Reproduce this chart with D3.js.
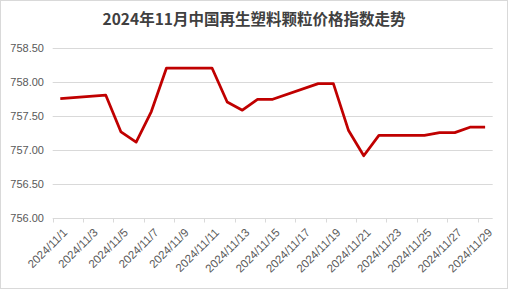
<!DOCTYPE html>
<html>
<head>
<meta charset="utf-8">
<script src="https://cdn.jsdelivr.net/npm/d3@7"></script>
<style>
  body { margin: 0; background: #fff; }
  svg { display: block; }
</style>
</head>
<body>
<div id="chart"></div>
<script>
// 2024年11月 再生塑料颗粒价格指数 (工作日数据)
var title = "2024年11月中国再生塑料颗粒价格指数走势";
var days = d3.range(1, 30).map(function(d){ return "2024/11/" + d; }); // 日期轴 11/1 - 11/29
var dates = ["2024/11/1", "2024/11/4", "2024/11/5", "2024/11/6", "2024/11/7", "2024/11/8",
             "2024/11/11", "2024/11/12", "2024/11/13", "2024/11/14", "2024/11/15",
             "2024/11/18", "2024/11/19", "2024/11/20", "2024/11/21", "2024/11/22",
             "2024/11/25", "2024/11/26", "2024/11/27", "2024/11/28", "2024/11/29"];
var values = [757.76, 757.81, 757.27, 757.12, 757.57, 758.21,
              758.21, 757.71, 757.59, 757.75, 757.75,
              757.98, 757.98, 757.29, 756.92, 757.22,
              757.22, 757.26, 757.26, 757.34, 757.34];
var yTicks = [756.0, 756.5, 757.0, 757.5, 758.0, 758.5];

var W = 508, H = 289;
var plotL = 52.7, plotR = 492.7, plotT = 48.3, plotB = 218.3;

var svg = d3.select("#chart").append("svg")
    .attr("width", W)
    .attr("height", H);

svg.append("rect")
    .attr("x", 0.5).attr("y", 0.5)
    .attr("width", W - 1).attr("height", H - 1)
    .attr("fill", "#fff")
    .attr("stroke", "#d9d9d9");

svg.append("text")
    .attr("x", W / 2)
    .attr("y", 25)
    .attr("text-anchor", "middle")
    .attr("font-family", "'Noto Sans CJK SC', sans-serif")
    .attr("font-size", "15.5px")
    .attr("font-weight", "bold")
    .attr("fill", "#404040")
    .text(title);

var x = d3.scaleBand().domain(days).range([plotL, plotR]);
var y = d3.scaleLinear().domain([756, 758.5]).range([plotB, plotT]);

// grille horizontale + labels Y
svg.append("g").selectAll("line")
    .data(yTicks.slice(1))
    .enter().append("line")
    .attr("x1", plotL).attr("x2", plotR)
    .attr("y1", function(d){ return Math.round(y(d)) + 0.5; })
    .attr("y2", function(d){ return Math.round(y(d)) + 0.5; })
    .attr("stroke", "#d9d9d9");

svg.append("g").selectAll("text")
    .data(yTicks)
    .enter().append("text")
    .attr("x", 44)
    .attr("y", function(d){ return y(d); })
    .attr("dy", "0.35em")
    .attr("text-anchor", "end")
    .attr("font-family", "'Liberation Sans', sans-serif")
    .attr("font-size", "11px")
    .attr("fill", "#595959")
    .text(function(d){ return d.toFixed(2); });

// axe X
var xAxis = svg.append("g")
    .attr("transform", "translate(0," + (Math.round(plotB) + 0.5) + ")");
xAxis.append("line")
    .attr("x1", plotL).attr("x2", plotR)
    .attr("stroke", "#d9d9d9");
xAxis.selectAll(".tick")
    .data(days.filter(function(d, i){ return i % 2 === 0; }))
    .enter().append("line")
    .attr("class", "tick")
    .attr("x1", function(d){ return Math.round(x(d)) + 0.5; })
    .attr("x2", function(d){ return Math.round(x(d)) + 0.5; })
    .attr("y1", 0).attr("y2", 4)
    .attr("stroke", "#d9d9d9");

svg.append("g").selectAll("text")
    .data(days.filter(function(d, i){ return i % 2 === 0; }))
    .enter().append("text")
    .attr("transform", function(d){
        return "translate(" + (x(d) + x.bandwidth() / 2 + 5) + "," + (plotB + 12) + ") rotate(-45)";
    })
    .attr("text-anchor", "end")
    .attr("dy", "0.35em")
    .attr("font-family", "'Liberation Sans', sans-serif")
    .attr("font-size", "11.5px")
    .attr("fill", "#595959")
    .text(function(d){ return d; });

// courbe
var line = d3.line()
    .x(function(d, i){ return x(dates[i]) + x.bandwidth() / 2; })
    .y(function(d){ return y(d); });

svg.append("path")
    .datum(values)
    .attr("d", line)
    .attr("fill", "none")
    .attr("stroke", "#c00000")
    .attr("stroke-width", 2.75)
    .attr("stroke-linejoin", "round");
</script>
</body>
</html>
